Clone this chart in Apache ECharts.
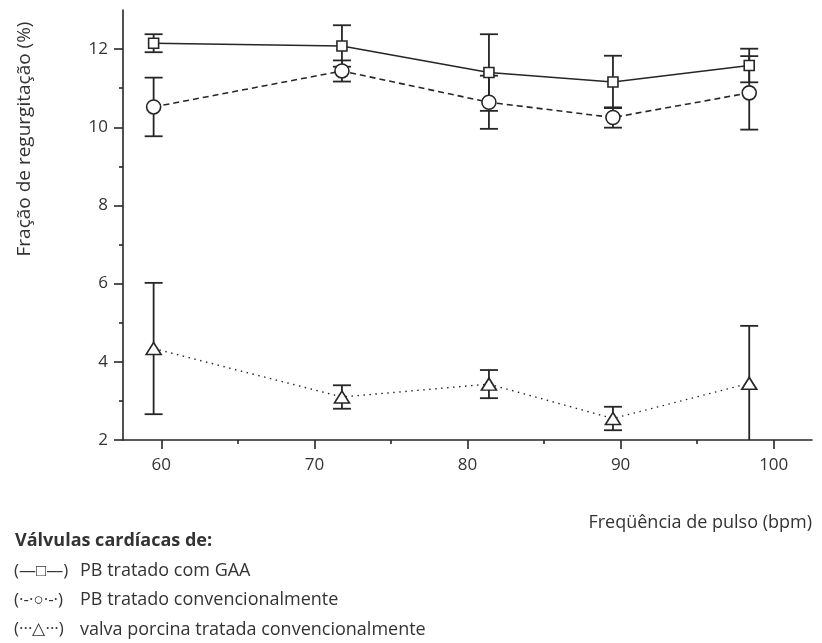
<!DOCTYPE html>
<html>
<head>
<meta charset="utf-8">
<script src="https://cdn.jsdelivr.net/npm/echarts@6/dist/echarts.min.js"></script>
<style>html,body{margin:0;padding:0;background:#fff;}#c{width:822px;height:643px;}</style>
</head>
<body>
<div id="c"></div>
<script>
// ---- data ----
var pulse = [59.5, 71.8, 81.4, 89.5, 98.4];
var gaaMean = [12.15, 12.08, 11.40, 11.16, 11.58];
var gaaErr = [0.23, 0.53, 0.98, 0.67, 0.43];
var convMean = [10.52, 11.44, 10.64, 10.25, 10.88];
var convErr = [0.75, 0.27, 0.68, 0.26, 0.94];
var porcMean = [4.34, 3.10, 3.43, 2.55, 3.45];
var porcErr = [1.68, 0.30, 0.36, 0.30, 1.47];
var xMajor = [60, 70, 80, 90, 100];
var xMinor = [65, 75, 85, 95];
var yMajor = [2, 4, 6, 8, 10, 12];
var yMinor = [3, 5, 7, 9, 11];
var seriesNames = ['PB tratado com GAA', 'PB tratado convencionalmente', 'valva porcina tratada convencionalmente'];
var legendSymbols = ['(\u2014\u25A1\u2014)', '(\u00B7-\u00B7\u25CB\u00B7-\u00B7)', '(\u00B7\u00B7\u00B7\u25B3\u00B7\u00B7\u00B7)'];
var legendTitle = 'Válvulas cardíacas de:';
var xName = 'Freqüência de pulso (bpm)';
var yName = 'Fração de regurgitação (%)';

var X_MIN = 57.5, X_MAX = 102.5, Y_MIN = 2, Y_MAX = 13;
var INK = '#262626', TXT = '#333333', FONT = '"Open Sans", "Noto Sans", sans-serif';

function pts(means) { return pulse.map(function (x, i) { return [x, means[i]]; }); }
function errs(means, e) { return pulse.map(function (x, i) { return [x, means[i] - e[i], means[i] + e[i]]; }); }

function errRender(params, api) {
  var x = api.value(0), lo = api.value(1), hi = api.value(2);
  var loC = Math.max(lo, Y_MIN);
  var pLo = api.coord([x, loC]), pHi = api.coord([x, hi]);
  var w = 9;
  var st = { stroke: INK, lineWidth: 1.8 };
  var children = [
    { type: 'line', shape: { x1: pLo[0], y1: pLo[1], x2: pHi[0], y2: pHi[1] }, style: st },
    { type: 'line', shape: { x1: pHi[0] - w, y1: pHi[1], x2: pHi[0] + w, y2: pHi[1] }, style: st }
  ];
  if (lo >= Y_MIN) children.push({ type: 'line', shape: { x1: pLo[0] - w, y1: pLo[1], x2: pLo[0] + w, y2: pLo[1] }, style: st });
  return { type: 'group', children: children };
}

function errSeries(means, e) {
  return { type: 'custom', renderItem: errRender, data: errs(means, e), z: 1, silent: true, encode: { x: 0, y: [1, 2] } };
}
function lineSeries(name, means, symbol, size, ltype, lw) {
  return {
    name: name, type: 'line', data: pts(means), symbol: symbol, symbolSize: size, z: 3, silent: true,
    lineStyle: { color: INK, width: lw, type: ltype },
    itemStyle: { color: '#fff', borderColor: INK, borderWidth: 1.6 }
  };
}

var legendGraphics = [{ type: 'text', x: 15, y: 541, style: { text: legendTitle, font: 'bold 18px ' + FONT, fill: TXT, textVerticalAlign: 'middle' } }];
for (var i = 0; i < seriesNames.length; i++) {
  legendGraphics.push({ type: 'text', x: 14, y: 571 + i * 29.3, style: { text: legendSymbols[i], font: '17px ' + FONT, fill: TXT, textVerticalAlign: 'middle' } });
  legendGraphics.push({ type: 'text', x: 80, y: 571 + i * 29.3, style: { text: seriesNames[i], font: '18px ' + FONT, fill: TXT, textVerticalAlign: 'middle' } });
}

var option = {
  animation: false,
  backgroundColor: '#fff',
  grid: { left: 123, right: 10, top: 10, bottom: 203, containLabel: false },
  xAxis: [
    {
      type: 'value', min: X_MIN, max: X_MAX, position: 'bottom',
      axisLine: { show: true, lineStyle: { color: INK, width: 1.6 } },
      axisTick: { show: true, customValues: xMajor, length: 9, lineStyle: { color: INK, width: 1.6 } },
      axisLabel: { customValues: xMajor, color: TXT, fontSize: 17, fontFamily: FONT, margin: 17 },
      splitLine: { show: false }
    },
    {
      type: 'value', min: X_MIN, max: X_MAX, position: 'bottom',
      axisLine: { show: false },
      axisTick: { show: true, customValues: xMinor, length: 4, lineStyle: { color: INK, width: 1.6 } },
      axisLabel: { show: false }, splitLine: { show: false }
    }
  ],
  yAxis: [
    {
      type: 'value', min: Y_MIN, max: Y_MAX, position: 'left',
      axisLine: { show: true, lineStyle: { color: INK, width: 1.6 } },
      axisTick: { show: true, customValues: yMajor, length: 9, lineStyle: { color: INK, width: 1.6 } },
      axisLabel: { customValues: yMajor, color: TXT, fontSize: 17, fontFamily: FONT, margin: 15 },
      splitLine: { show: false }
    },
    {
      type: 'value', min: Y_MIN, max: Y_MAX, position: 'left',
      axisLine: { show: false },
      axisTick: { show: true, customValues: yMinor, length: 4, lineStyle: { color: INK, width: 1.6 } },
      axisLabel: { show: false }, splitLine: { show: false }
    }
  ],
  graphic: [
    { type: 'text', x: 25, y: 139, rotation: Math.PI / 2, style: { text: yName, font: '19px ' + FONT, fill: TXT, textAlign: 'center', textVerticalAlign: 'middle' } },
    { type: 'text', x: 812, y: 523, style: { text: xName, font: '18px ' + FONT, fill: TXT, textAlign: 'right', textVerticalAlign: 'middle' } }
  ].concat(legendGraphics),
  series: [
    errSeries(gaaMean, gaaErr),
    errSeries(convMean, convErr),
    errSeries(porcMean, porcErr),
    lineSeries(seriesNames[0], gaaMean, 'rect', 10, 'solid', 1.6),
    lineSeries(seriesNames[1], convMean, 'circle', 14, [6, 4], 1.6),
    lineSeries(seriesNames[2], porcMean, 'triangle', [15, 12], [1.5, 4.5], 1.4)
  ]
};
var chart = echarts.init(document.getElementById('c'), null, { renderer: 'canvas' });
chart.setOption(option);
</script>
</body>
</html>
